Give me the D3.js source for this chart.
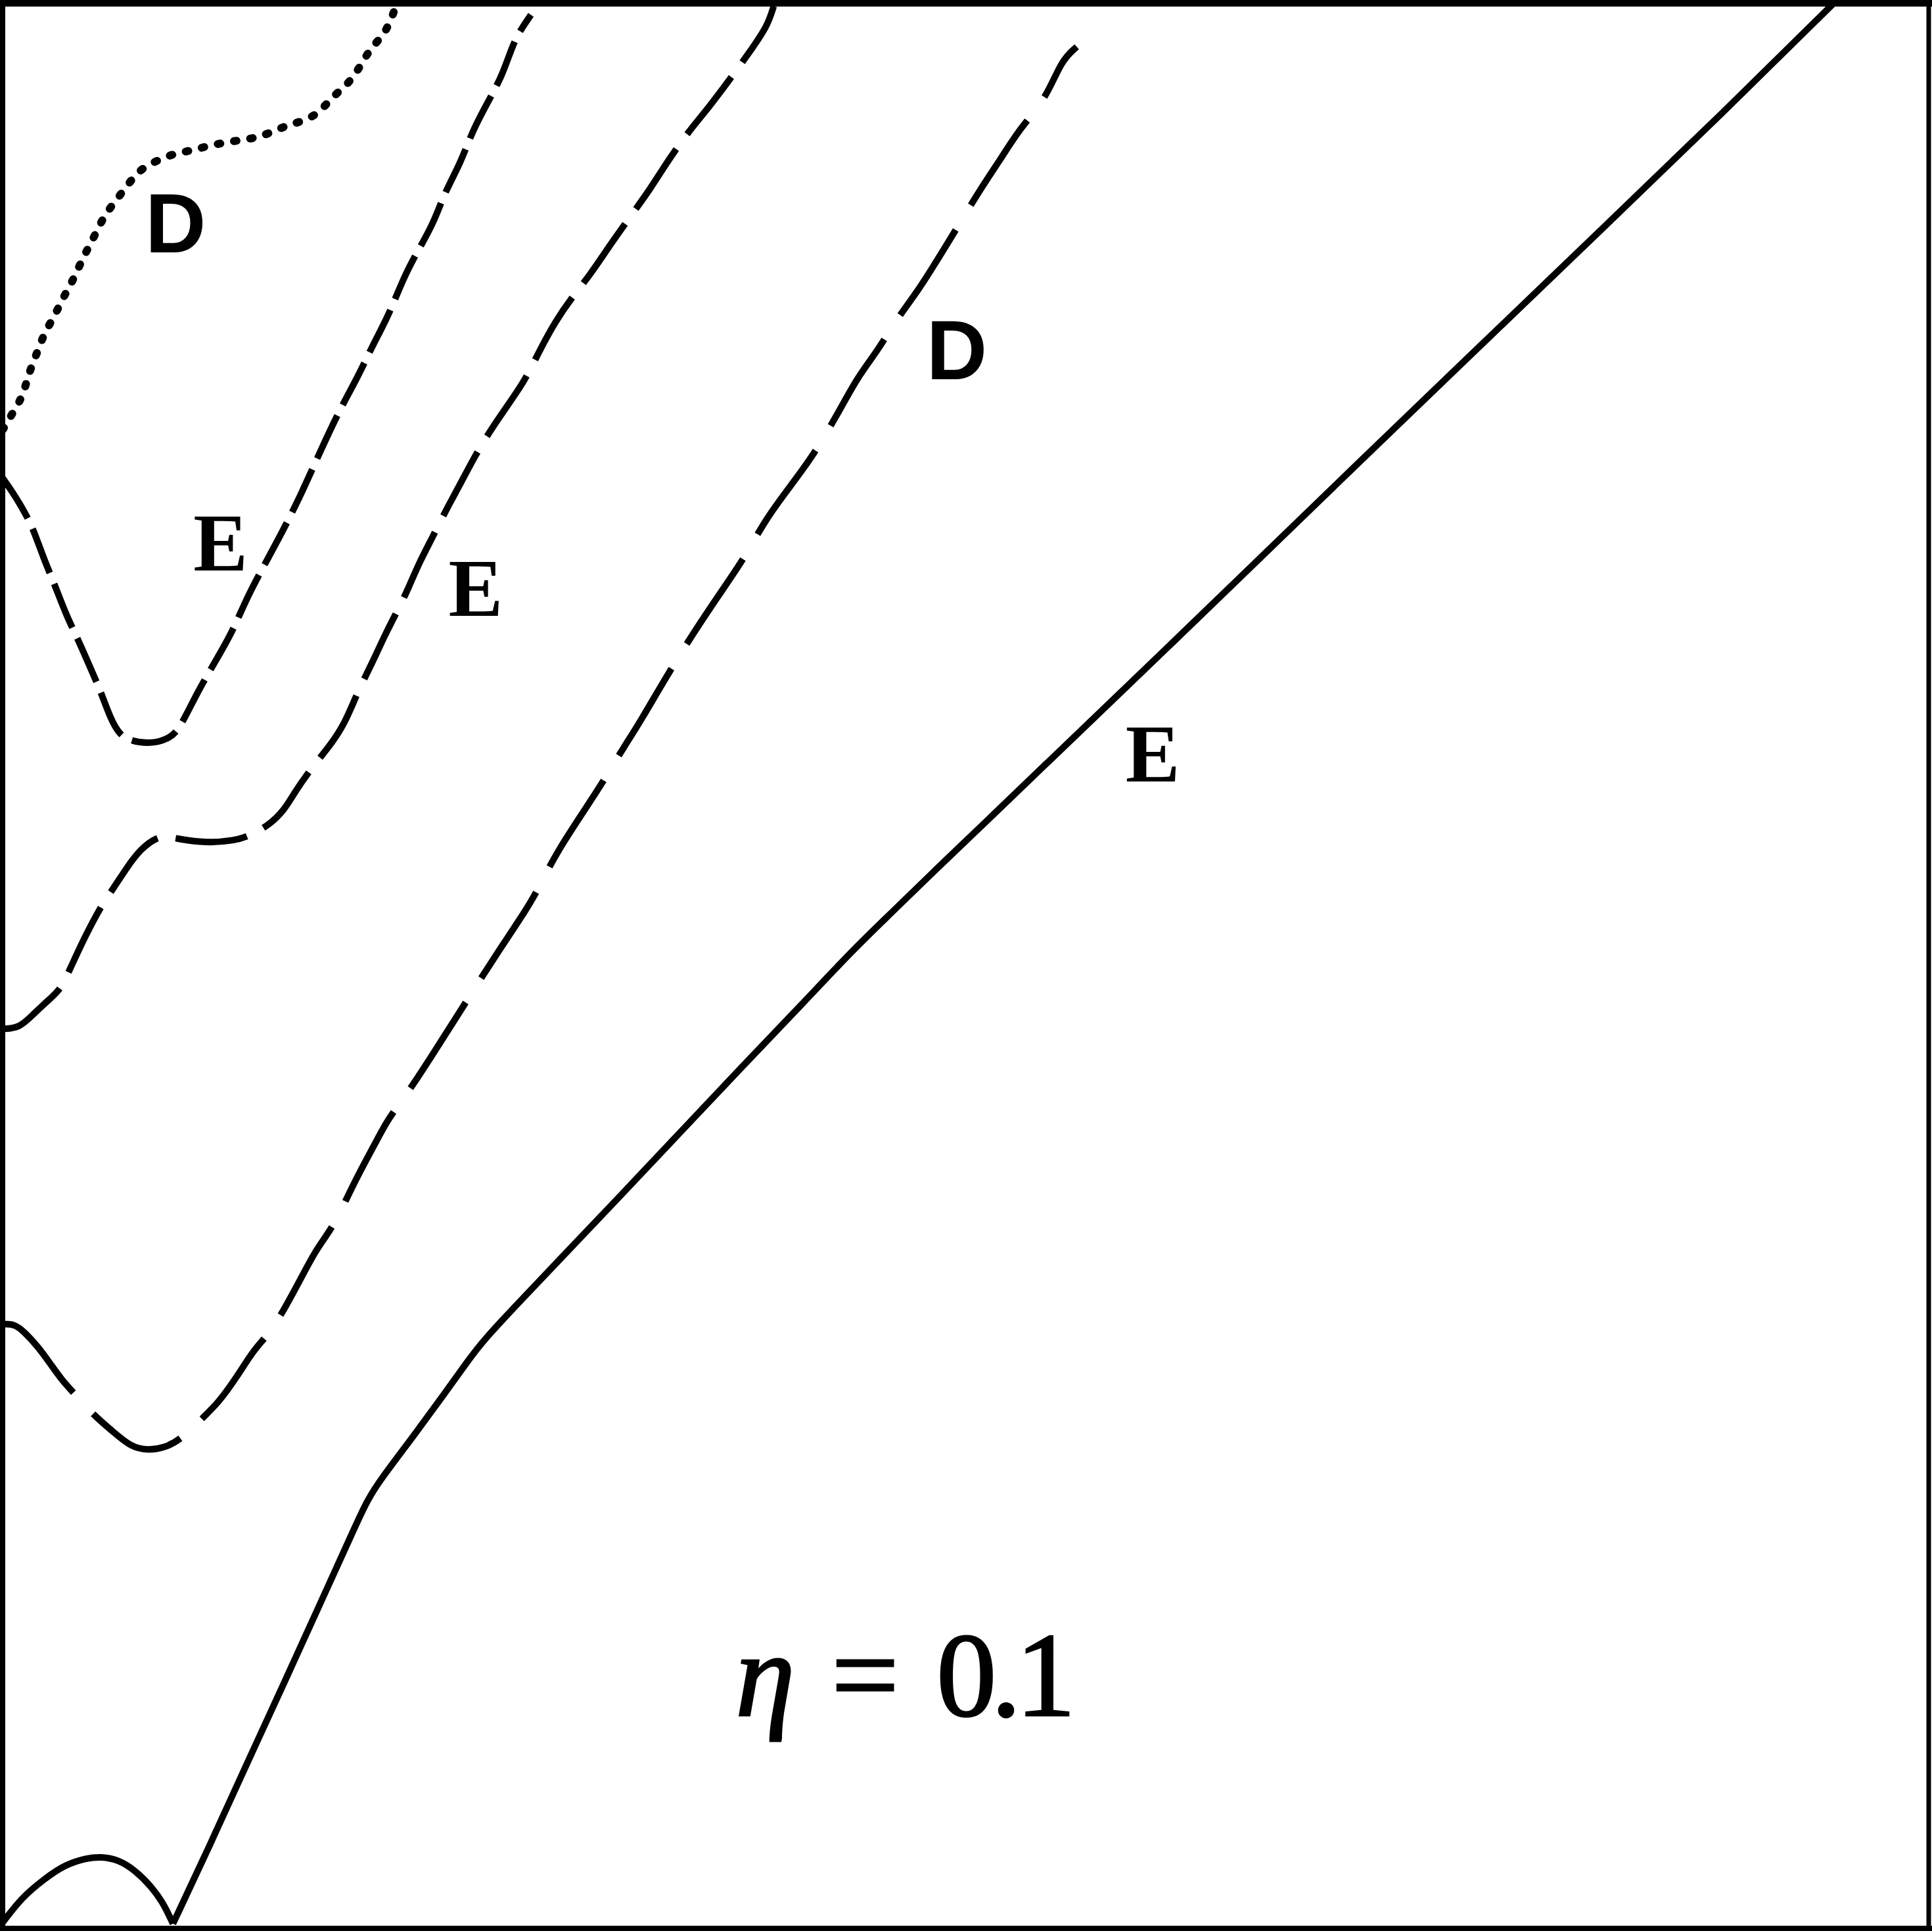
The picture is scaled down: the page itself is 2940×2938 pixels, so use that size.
<!DOCTYPE html>
<html>
<head>
<meta charset="utf-8">
<script src="https://cdn.jsdelivr.net/npm/d3@7"></script>
<style>
  html, body { margin: 0; padding: 0; background: #fff; }
  svg { display: block; }
  .serif { font-family: "Liberation Serif", "Times New Roman", Times, Tinos, serif; }
  .sans  { font-family: "Liberation Sans", Arial, Helvetica, Arimo, sans-serif; }
</style>
</head>
<body>
<script>
// ---- data (unitless coordinates, 0..1 on both axes) ----
const solidE = [
  [0.0884,0.0024],[0.1074,0.0428],[0.1265,0.0850],[0.1457,0.1266],[0.1649,0.1689],
  [0.1809,0.2041],[0.1892,0.2226],[0.1969,0.2342],[0.2129,0.2553],[0.2289,0.2771],
  [0.2416,0.2950],[0.2493,0.3052],[0.2672,0.3244],[0.2928,0.3513],[0.3184,0.3782],
  [0.3504,0.4121],[0.3823,0.4461],[0.4143,0.4794],[0.4418,0.5088],[0.4591,0.5254],
  [0.4847,0.5504],[0.5102,0.5747],[0.5422,0.6055],[0.5742,0.6362],[0.6062,0.6669],
  [0.6381,0.6977],[0.7021,0.7598],[0.7660,0.8212],[0.8300,0.8827],[0.8939,0.9441],
  [0.9501,0.9998]
];
const bump = [
  [0.0000,0.0030],[0.0100,0.0161],[0.0214,0.0255],[0.0325,0.0332],[0.0440,0.0366],
  [0.0511,0.0372],[0.0600,0.0357],[0.0690,0.0300],[0.0771,0.0218],[0.0828,0.0140],
  [0.0868,0.0059],[0.0884,0.0024]
];
const dashedE1 = [
  [0.0000,0.7534],[0.0063,0.7444],[0.0127,0.7335],[0.0165,0.7252],[0.0210,0.7124],
  [0.0274,0.6970],[0.0332,0.6817],[0.0389,0.6701],[0.0453,0.6554],[0.0511,0.6420],
  [0.0562,0.6279],[0.0607,0.6202],[0.0658,0.6170],[0.0767,0.6151],[0.0875,0.6183],
  [0.0926,0.6247],[0.1010,0.6420],[0.1099,0.6573],[0.1189,0.6727],[0.1259,0.6893],
  [0.1342,0.7053],[0.1451,0.7252],[0.1553,0.7457],[0.1649,0.7674],[0.1751,0.7892],
  [0.1847,0.8065],[0.1924,0.8231],[0.2001,0.8372],[0.2084,0.8583],[0.2161,0.8724],
  [0.2237,0.8859],[0.2295,0.9019],[0.2378,0.9172],[0.2436,0.9332],[0.2518,0.9486],
  [0.2595,0.9627],[0.2652,0.9800],[0.2703,0.9883],[0.2742,0.9940]
];
const dashedE2 = [
  [0.0000,0.4672],[0.0089,0.4678],[0.0159,0.4749],[0.0249,0.4832],[0.0300,0.4877],
  [0.0351,0.4986],[0.0421,0.5139],[0.0511,0.5312],[0.0575,0.5402],[0.0645,0.5511],
  [0.0715,0.5607],[0.0805,0.5671],[0.0856,0.5671],[0.0958,0.5651],[0.1080,0.5639],
  [0.1201,0.5651],[0.1272,0.5671],[0.1380,0.5728],[0.1464,0.5811],[0.1515,0.5901],
  [0.1604,0.6029],[0.1700,0.6144],[0.1777,0.6260],[0.1841,0.6420],[0.1918,0.6573],
  [0.1988,0.6727],[0.2058,0.6861],[0.2110,0.6970],[0.2161,0.7092],[0.2231,0.7226],
  [0.2301,0.7367],[0.2378,0.7508],[0.2455,0.7655],[0.2525,0.7770],[0.2589,0.7866],
  [0.2711,0.8039],[0.2775,0.8174],[0.2871,0.8353],[0.2966,0.8487],[0.3050,0.8590],
  [0.3165,0.8763],[0.3280,0.8923],[0.3363,0.9038],[0.3459,0.9192],[0.3574,0.9352],
  [0.3657,0.9448],[0.3791,0.9627],[0.3887,0.9761],[0.3970,0.9883],[0.4002,0.9985]
];
const dashedD = [
  [0.0000,0.3139],[0.0063,0.3139],[0.0114,0.3097],[0.0185,0.3020],[0.0249,0.2931],
  [0.0313,0.2841],[0.0357,0.2796],[0.0469,0.2668],[0.0575,0.2579],[0.0664,0.2502],
  [0.0754,0.2483],[0.0837,0.2495],[0.0926,0.2540],[0.1042,0.2655],[0.1121,0.2732],
  [0.1215,0.2863],[0.1304,0.3007],[0.1380,0.3084],[0.1464,0.3219],[0.1553,0.3385],
  [0.1630,0.3532],[0.1723,0.3654],[0.1822,0.3872],[0.1937,0.4083],[0.2000,0.4205],
  [0.2102,0.4339],[0.2231,0.4538],[0.2369,0.4755],[0.2454,0.4890],[0.2564,0.5062],
  [0.2723,0.5299],[0.2781,0.5402],[0.2877,0.5594],[0.3056,0.5863],[0.3133,0.5984],
  [0.3229,0.6144],[0.3305,0.6260],[0.3523,0.6637],[0.3738,0.6957],[0.3849,0.7117],
  [0.3957,0.7316],[0.4100,0.7508],[0.4206,0.7649],[0.4341,0.7879],[0.4437,0.8058],
  [0.4540,0.8193],[0.4636,0.8353],[0.4751,0.8507],[0.4827,0.8628],[0.4911,0.8763],
  [0.5064,0.9019],[0.5182,0.9194],[0.5281,0.9352],[0.5416,0.9505],[0.5495,0.9704],
  [0.5575,0.9774]
];
const dottedD = [
  [0.0000,0.7783],[0.0041,0.7854],[0.0095,0.7940],[0.0121,0.8020],[0.0146,0.8106],
  [0.0185,0.8199],[0.0217,0.8289],[0.0268,0.8372],[0.0309,0.8462],[0.0357,0.8545],
  [0.0396,0.8631],[0.0434,0.8711],[0.0479,0.8795],[0.0524,0.8891],[0.0581,0.8967],
  [0.0645,0.9051],[0.0709,0.9134],[0.0792,0.9179],[0.0882,0.9217],[0.0971,0.9233],
  [0.1054,0.9256],[0.1144,0.9275],[0.1227,0.9288],[0.1310,0.9300],[0.1387,0.9326],
  [0.1470,0.9364],[0.1553,0.9386],[0.1643,0.9428],[0.1707,0.9512],[0.1790,0.9576],
  [0.1854,0.9668],[0.1905,0.9761],[0.1975,0.9832],[0.2014,0.9909],[0.2042,0.9988]
];
const labelText  = ["D", "D", "E", "E", "E"];
const labelX     = [0.0898, 0.4952, 0.1131, 0.2455, 0.5969];
const labelY     = [0.8705, 0.8046, 0.7053, 0.6817, 0.5959];
const labelKind  = ["sans", "sans", "serif", "serif", "serif"];
const etaPos     = [0.3817, 0.1106];

// ---- drawing ----
const W = 2940, H = 2938;
const pLeft = 4, pRight = 2936, pTop = 5, pBottom = 2934;

const xs = d3.scaleLinear().domain([0, 1]).range([pLeft, pRight]);
const ys = d3.scaleLinear().domain([0, 1]).range([pBottom, pTop]);

const svg = d3.select("body").append("svg")
  .attr("width", W).attr("height", H)
  .attr("viewBox", `0 0 ${W} ${H}`);

svg.append("rect").attr("width", W).attr("height", H).attr("fill", "#fff");

svg.append("clipPath").attr("id", "plotclip")
  .append("rect").attr("x", pLeft).attr("y", pTop)
  .attr("width", pRight - pLeft).attr("height", pBottom - pTop);

const lineGen = d3.line().x(d => xs(d[0])).y(d => ys(d[1])).curve(d3.curveBasis);

const g = svg.append("g").attr("clip-path", "url(#plotclip)");

const series = [
  { data: solidE,   width: 10, dash: null,      cap: "butt"  },
  { data: bump,     width: 10, dash: null,      cap: "butt"  },
  { data: dashedE1, width: 10, dash: "72,18",   cap: "butt"  },
  { data: dashedE2, width: 10, dash: "110,28",  cap: "butt"  },
  { data: dashedD,  width: 10, dash: "155,44",  cap: "butt"  },
  { data: dottedD,  width: 12, dash: "4,21",    cap: "round" }
];

g.selectAll("path.curve").data(series).join("path")
  .attr("class", "curve")
  .attr("d", s => lineGen(s.data))
  .attr("fill", "none")
  .attr("stroke", "#000")
  .attr("stroke-width", s => s.width)
  .attr("stroke-linecap", s => s.cap)
  .attr("stroke-linejoin", "round")
  .attr("stroke-dasharray", s => s.dash);

// frame
svg.append("line").attr("x1", 0).attr("x2", W).attr("y1", 5).attr("y2", 5)
  .attr("stroke", "#000").attr("stroke-width", 10);
svg.append("line").attr("x1", 4).attr("x2", 4).attr("y1", 0).attr("y2", H)
  .attr("stroke", "#000").attr("stroke-width", 8);
svg.append("line").attr("x1", 2935).attr("x2", 2935).attr("y1", 0).attr("y2", H)
  .attr("stroke", "#000").attr("stroke-width", 7);
svg.append("line").attr("x1", 0).attr("x2", W).attr("y1", 2934).attr("y2", 2934)
  .attr("stroke", "#000").attr("stroke-width", 8);

// labels
svg.selectAll("text.lbl").data(labelText.map((t, i) => ({t, i}))).join("text")
  .attr("class", d => "lbl " + labelKind[d.i])
  .attr("x", d => xs(labelX[d.i]))
  .attr("y", d => ys(labelY[d.i]))
  .attr("text-anchor", "middle")
  .style("font-weight", "bold")
  .style("font-size", d => (labelKind[d.i] === "sans" ? 128 : 124) + "px")
  .attr("fill", "#000")
  .text(d => d.t);

// eta annotation
const ex = xs(etaPos[0]), ey = ys(etaPos[1]);
const eta = svg.append("text")
  .attr("class", "serif")
  .attr("y", ey)
  .style("font-size", "182px")
  .attr("fill", "#000")
  .attr("stroke", "#000")
  .attr("stroke-width", 3);
eta.append("tspan").attr("x", ex - 4).style("font-style", "italic").text("η");
eta.append("tspan").attr("x", ex + 142).text("=");
eta.append("tspan").attr("x", ex + 302).style("letter-spacing", "-8px").text("0.1");
</script>
</body>
</html>
